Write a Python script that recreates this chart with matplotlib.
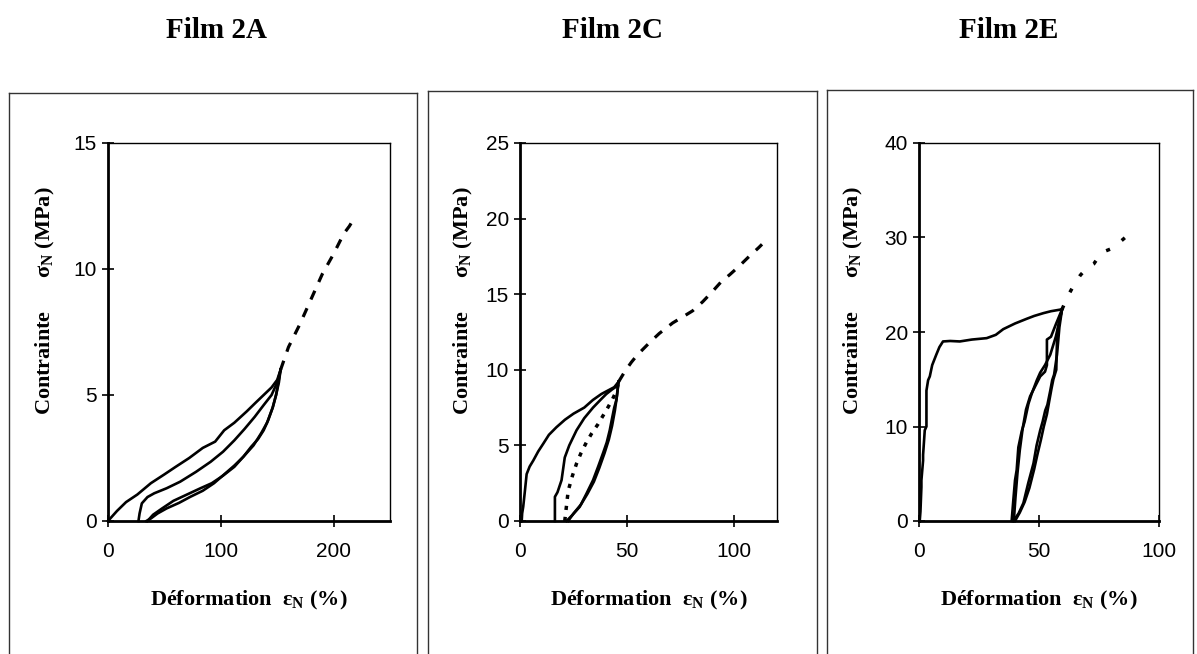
import matplotlib
matplotlib.use("Agg")
import matplotlib.pyplot as plt
from matplotlib.lines import Line2D

plt.rcParams['font.family'] = ['Liberation Sans', 'DejaVu Sans']
plt.rcParams['mathtext.fontset'] = 'custom'
plt.rcParams['mathtext.rm'] = 'Liberation Serif:bold'

# ---------------- Film 2A ----------------
a_load_x = [0, 8, 16, 26, 38, 50, 60, 72, 84, 95, 103, 112, 123, 131, 138, 145, 150, 153]
a_load_y = [0, 0.4, 0.75, 1.05, 1.5, 1.85, 2.15, 2.5, 2.9, 3.15, 3.6, 3.9, 4.35, 4.7, 5.0, 5.3, 5.6, 6.0]
a_mid_x = [27, 28, 30, 35, 41, 52, 64, 78, 91, 102, 112, 121, 130, 138, 145, 150, 153]
a_mid_y = [0, 0.3, 0.7, 0.95, 1.1, 1.3, 1.56, 1.95, 2.35, 2.75, 3.2, 3.65, 4.13, 4.6, 5.0, 5.5, 6.0]
a_unload_x = [153, 151.5, 149, 146, 142, 138, 133, 127, 120, 112, 103, 94, 84, 73, 63, 52, 44, 38, 34]
a_unload_y = [6.0, 5.5, 5.0, 4.5, 4.0, 3.6, 3.25, 2.95, 2.55, 2.2, 1.85, 1.5, 1.2, 0.96, 0.72, 0.5, 0.3, 0.1, 0]
a_reload_x = [35, 40, 48, 58, 70, 82, 92, 102, 112, 121, 129, 136, 141, 146, 149, 151, 153]
a_reload_y = [0, 0.25, 0.5, 0.8, 1.05, 1.3, 1.5, 1.8, 2.15, 2.6, 3.0, 3.5, 3.9, 4.5, 5.0, 5.5, 6.0]
a_ext_x = [153, 160, 170, 180, 190, 200, 209, 214, 218]
a_ext_y = [6.0, 6.9, 7.8, 8.8, 9.8, 10.6, 11.4, 11.7, 12.0]

# ---------------- Film 2C ----------------
c_load_x = [0.8, 1.0, 1.5, 2.3, 3.1, 4.5, 6.2, 8.5, 10.8, 13.5, 17, 21, 25, 30, 34, 38, 42, 44, 46]
c_load_y = [0, 0.5, 0.94, 2.0, 3.1, 3.6, 4.0, 4.6, 5.1, 5.7, 6.2, 6.7, 7.1, 7.5, 8.0, 8.4, 8.7, 8.85, 9.2]
c_mid_x = [16.3, 16.3, 17.5, 19.4, 20.2, 20.9, 23, 26.4, 30, 34.1, 37.5, 40.3, 43, 45, 46]
c_mid_y = [0, 1.6, 1.9, 2.7, 3.5, 4.2, 5.0, 6.0, 6.8, 7.5, 8.0, 8.4, 8.7, 8.9, 9.2]
c_dot_x = [20.9, 22.5, 24.5, 26.4, 28.5, 31, 33.5, 36.4, 38.5, 41, 43, 45, 46]
c_dot_y = [0, 2.0, 3.0, 3.8, 4.5, 5.2, 5.8, 6.4, 6.9, 7.5, 8.0, 8.6, 9.2]
c_unload_x = [46, 45.5, 45, 44, 43, 41.9, 40.5, 38.8, 36.5, 34.1, 31, 27.9, 24.5, 21.7]
c_unload_y = [9.2, 8.6, 8.0, 7.5, 6.8, 6.0, 5.2, 4.5, 3.6, 2.7, 1.8, 0.94, 0.4, 0]
c_reload_x = [22.5, 25, 28.5, 31.5, 34.5, 37, 39.5, 41.5, 43, 44.3, 45.3, 46]
c_reload_y = [0, 0.5, 1.1, 1.8, 2.6, 3.5, 4.5, 5.4, 6.3, 7.3, 8.3, 9.2]
c_ext_x = [46, 49, 52, 54.3, 57, 60.5, 65, 71.3, 76, 80.6, 85.3, 90, 93.8, 98, 102.3, 107, 111.6, 113]
c_ext_y = [9.2, 9.9, 10.5, 10.9, 11.3, 11.8, 12.4, 13.1, 13.5, 13.9, 14.5, 15.2, 15.8, 16.3, 16.85, 17.5, 18.1, 18.3]

# ---------------- Film 2E ----------------
e_load_x = [0.3, 0.6, 1.0, 1.0, 1.7, 1.7, 2.4, 3.1, 3.1, 3.8, 4.5, 5.5, 7.2, 8.5, 10, 13, 17, 22,
            28.2, 32, 35.1, 40, 44.9, 48, 51.9, 55, 59.6]
e_load_y = [0, 1.0, 3.6, 4.3, 6.4, 7.0, 9.6, 10.0, 13.8, 14.9, 15.3, 16.5, 17.6, 18.4, 19.0, 19.05,
            19.0, 19.2, 19.35, 19.7, 20.3, 20.9, 21.4, 21.7, 22.0, 22.2, 22.4]
e_up_x = [38.6, 39.3, 40, 40.7, 41.4, 42.8, 44, 45.6, 47, 49.1, 50.5, 52.5, 54.7, 57, 59.6]
e_up_y = [0, 2.2, 4.3, 5.4, 7.8, 9.5, 10.5, 12.4, 13.5, 14.9, 15.7, 16.5, 17.6, 19.5, 22.4]
e_down_x = [59.6, 58.5, 57.5, 56.3, 55.5, 54.7, 53.5, 52.6, 51.5, 50.5, 49, 47.7, 45.5, 43.5, 41.5, 39.3]
e_down_y = [22.4, 20.5, 17.6, 15.5, 14.9, 13.8, 12.3, 11.7, 10.5, 9.6, 8.0, 6.1, 4.0, 1.9, 0.8, 0]
e_up2_x = [39.5, 40.2, 41, 42, 43.2, 44.6, 46.3, 48.5, 50.5, 52.5, 53.3, 53.3, 55, 57, 59.6]
e_up2_y = [0, 2.5, 5.0, 7.5, 9.8, 11.8, 13.2, 14.3, 15.3, 15.8, 16.5, 19.2, 19.5, 20.8, 22.4]
e_down2_x = [59.6, 58, 57.5, 57.2, 56, 55.2, 54.2, 53.3, 52, 50.8, 49.3, 48, 46, 44, 42, 40]
e_down2_y = [22.4, 20.5, 19.2, 16.0, 15.0, 14.0, 12.6, 11.3, 10.0, 8.6, 7.0, 5.5, 3.5, 2.0, 0.9, 0]
e_ext_x = [59.6, 62, 64.4, 67.2, 70, 72.8, 75, 77, 80, 82.6, 85, 86.8]
e_ext_y = [22.4, 23.8, 24.9, 26.0, 26.8, 27.2, 28.0, 28.5, 28.8, 29.3, 29.8, 30.2]

titles = ["Film 2A", "Film 2C", "Film 2E"]
x_limits = [(0, 250), (0, 120), (0, 100)]
y_limits = [(0, 15), (0, 25), (0, 40)]
x_ticks = [[0, 100, 200], [0, 50, 100], [0, 50, 100]]
y_ticks = [[0, 5, 10, 15], [0, 5, 10, 15, 20, 25], [0, 10, 20, 30, 40]]

W, H = 1197, 654
fig = plt.figure(figsize=(W / 100, H / 100), dpi=100)


def px(x0, y0, x1, y1):
    """Axes rectangle from pixel edges (left, top, right, bottom)."""
    return [x0 / W, 1 - y1 / H, (x1 - x0) / W, (y1 - y0) / H]


axes_px = [(108, 143, 390, 521), (520, 143, 777, 521), (919, 143, 1159, 521)]
boxes_px = [(9, 93, 417), (428, 91, 817), (827, 90, 1193)]
title_x = [216, 613, 1009]
ylabel_x = [45, 463, 853]

serif = ['Liberation Serif', 'DejaVu Serif']
axs = []
for i in range(3):
    ax = fig.add_axes(px(*axes_px[i]))
    ax.set_xlim(*x_limits[i])
    ax.set_ylim(*y_limits[i])
    ax.set_xticks(x_ticks[i])
    ax.set_yticks(y_ticks[i])
    ax.tick_params(direction='inout', length=8, width=1.2, labelsize=15, color='black')
    ax.tick_params(axis='x', pad=11)
    ax.tick_params(axis='y', pad=4)
    for side in ('left', 'bottom'):
        ax.spines[side].set_linewidth(2.0)
    for side in ('top', 'right'):
        ax.spines[side].set_linewidth(1.0)
    for lab in ax.get_xticklabels() + ax.get_yticklabels():
        lab.set_fontfamily(['Liberation Sans', 'DejaVu Sans'])

    # outer frame around each panel
    bx0, by0, bx1 = boxes_px[i]
    frame_kw = dict(color='#333333', lw=1.0, transform=fig.transFigure)
    fig.add_artist(Line2D([bx0 / W, bx0 / W], [0, 1 - by0 / H], **frame_kw))
    fig.add_artist(Line2D([bx1 / W, bx1 / W], [0, 1 - by0 / H], **frame_kw))
    fig.add_artist(Line2D([bx0 / W, bx1 / W], [1 - by0 / H, 1 - by0 / H], **frame_kw))

    fig.text(title_x[i] / W, 1 - 30 / H, titles[i], ha='center', va='center',
             fontsize=21, fontweight='bold', family=serif)
    cx = (axes_px[i][0] + axes_px[i][2]) / 2
    fig.text(cx / W, 1 - 600 / H, 'Déformation  ε$_{\\mathrm{N}}$ (%)', ha='center', va='center',
             fontsize=16, fontweight='bold', family=serif)
    fig.text(ylabel_x[i] / W, 1 - 301 / H, 'Contrainte      σ$_{\\mathrm{N}}$ (MPa)', ha='center',
             va='center', rotation=90, fontsize=16, fontweight='bold', family=serif)
    axs.append(ax)

solid = dict(color='black', lw=1.9, solid_joinstyle='round')
dashed = dict(color='black', lw=2.3, linestyle=(0, (3, 3)))
dotted = dict(color='black', lw=2.5, linestyle=(0, (1.2, 2.0)))
sparse = dict(color='black', lw=2.5, linestyle=(0, (1.2, 4.2)))

ax = axs[0]
ax.plot(a_load_x, a_load_y, **solid)
ax.plot(a_mid_x, a_mid_y, **solid)
ax.plot(a_unload_x, a_unload_y, **solid)
ax.plot(a_reload_x, a_reload_y, **solid)
ax.plot(a_ext_x, a_ext_y, **dashed)

ax = axs[1]
ax.plot(c_load_x, c_load_y, **solid)
ax.plot(c_mid_x, c_mid_y, **solid)
ax.plot(c_dot_x, c_dot_y, **dotted)
ax.plot(c_unload_x, c_unload_y, **solid)
ax.plot(c_reload_x, c_reload_y, **solid)
ax.plot(c_ext_x, c_ext_y, **dashed)

ax = axs[2]
ax.plot(e_load_x, e_load_y, **solid)
ax.plot(e_up_x, e_up_y, **solid)
ax.plot(e_down_x, e_down_y, **solid)
ax.plot(e_up2_x, e_up2_y, **solid)
ax.plot(e_down2_x, e_down2_y, **solid)
ax.plot(e_ext_x, e_ext_y, **sparse)

for ax in axs:
    for ln in ax.get_lines():
        ln.set_clip_on(False)

fig.savefig('out.png', dpi=100)
